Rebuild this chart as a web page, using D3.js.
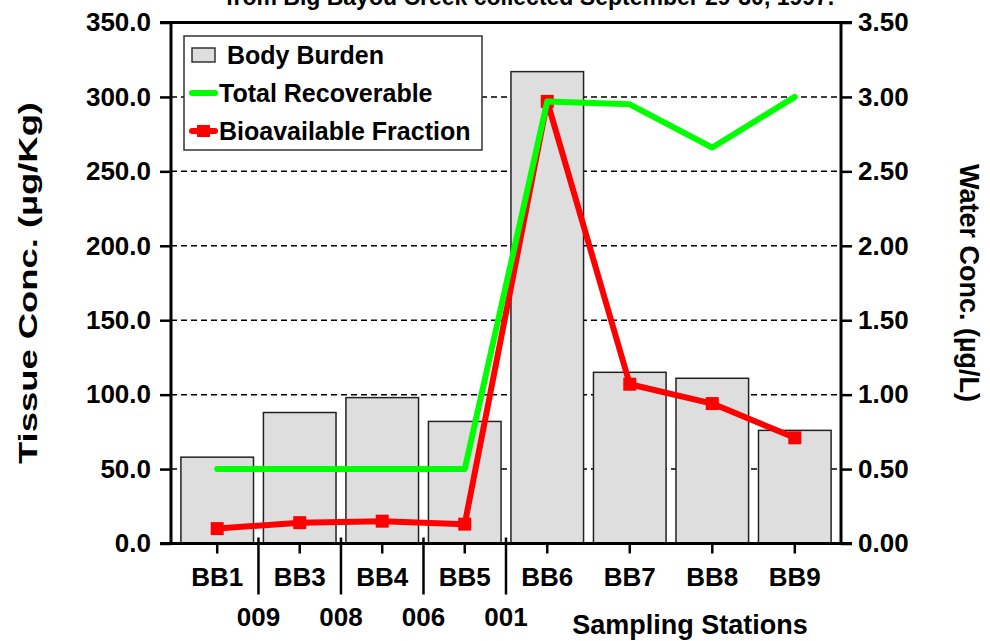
<!DOCTYPE html>
<html>
<head>
<meta charset="utf-8">
<script src="https://cdn.jsdelivr.net/npm/d3@7"></script>
<style>
  body { margin: 0; background: #fff; }
  svg { display: block; font-family: "Liberation Sans", Arial, sans-serif; font-weight: bold; }
</style>
</head>
<body>
<div id="chart"></div>
<script>
// data
const stations = ['BB1', 'BB3', 'BB4', 'BB5', 'BB6', 'BB7', 'BB8', 'BB9'];
const bodyBurden = [58, 88, 98, 82, 317, 115, 111, 76];          // µg/Kg, left axis
const totalRecoverable = [0.5, 0.5, 0.5, 0.5, 2.97, 2.95, 2.66, 3.0]; // µg/L, right axis
const bioavailable = [0.10, 0.14, 0.15, 0.13, 2.97, 1.07, 0.94, 0.71]; // µg/L, right axis
const leftTicks = [0, 50, 100, 150, 200, 250, 300, 350];
const rightTicks = [0, 0.5, 1, 1.5, 2, 2.5, 3, 3.5];
const outfalls = ['009', '008', '006', '001']; // between BB1|BB3 ... BB5|BB6

const width = 990, height = 641;
const margin = { top: 22.5, right: 149, bottom: 97.5, left: 171 };
const w = width - margin.left - margin.right;
const h = height - margin.top - margin.bottom;
const fs = '26px';

const svg = d3.select('#chart').append('svg')
  .attr('width', width)
  .attr('height', height);

// title, mostly cut off at the top edge
svg.append('text')
  .attr('x', 530).attr('y', 5)
  .attr('text-anchor', 'middle')
  .style('font-size', '23px')
  .text('from Big Bayou Creek collected September 29-30, 1997.');

const chart = svg.append('g')
  .attr('transform', `translate(${margin.left},${margin.top})`);

const x = d3.scaleBand()
  .domain(stations)
  .range([0, w])
  .padding(0.12);

const yL = d3.scaleLinear().domain([0, 350]).range([h, 0]);
const yR = d3.scaleLinear().domain([0, 3.5]).range([h, 0]);

// dashed grid
chart.append('g')
  .selectAll('line')
  .data(leftTicks.filter(d => d > 0 && d < 350))
  .enter()
  .append('line')
  .attr('x1', 0).attr('x2', w)
  .attr('y1', d => yL(d)).attr('y2', d => yL(d))
  .attr('stroke', '#000')
  .attr('stroke-width', 1.5)
  .attr('stroke-dasharray', '6 4');

// bars
chart.append('g')
  .selectAll('rect')
  .data(stations)
  .enter()
  .append('rect')
  .attr('x', d => x(d))
  .attr('y', (d, i) => yL(bodyBurden[i]))
  .attr('width', x.bandwidth())
  .attr('height', (d, i) => h - yL(bodyBurden[i]))
  .attr('fill', '#dedede')
  .attr('stroke', '#222')
  .attr('stroke-width', 1.5);

const cx = d => x(d) + x.bandwidth() / 2;

const line = d3.line()
  .x((d, i) => cx(stations[i]))
  .y(d => yR(d));

// bioavailable fraction (red)
chart.append('path')
  .datum(bioavailable)
  .attr('d', line)
  .attr('fill', 'none')
  .attr('stroke', '#ff0000')
  .attr('stroke-width', 6)
  .attr('stroke-linejoin', 'round');

chart.append('g')
  .selectAll('rect')
  .data(bioavailable)
  .enter()
  .append('rect')
  .attr('x', (d, i) => cx(stations[i]) - 6.5)
  .attr('y', d => yR(d) - 6.5)
  .attr('width', 13).attr('height', 13)
  .attr('fill', '#ff0000');

// total recoverable (green)
chart.append('path')
  .datum(totalRecoverable)
  .attr('d', line)
  .attr('fill', 'none')
  .attr('stroke', '#00ff00')
  .attr('stroke-width', 6)
  .attr('stroke-linecap', 'round')
  .attr('stroke-linejoin', 'round');

// axes
const yAxisL = d3.axisLeft(yL).tickValues(leftTicks).tickSize(11).tickPadding(9)
  .tickFormat(d3.format('.1f'));
const yAxisR = d3.axisRight(yR).tickValues(rightTicks).tickSize(11).tickPadding(6)
  .tickFormat(d3.format('.2f'));
const xAxis = d3.axisBottom(x).tickSize(10).tickPadding(14);

const gL = chart.append('g').call(yAxisL);
const gR = chart.append('g').attr('transform', `translate(${w},0)`).call(yAxisR);
const gX = chart.append('g').attr('transform', `translate(0,${h})`).call(xAxis);

[gL, gR, gX].forEach(g => {
  g.select('.domain').remove();
  g.selectAll('.tick line').attr('stroke', '#000').attr('stroke-width', 2.5);
  g.selectAll('.tick text')
    .attr('fill', '#000')
    .style('font-size', fs)
    .style('font-family', '"Liberation Sans", Arial, sans-serif')
    .style('font-weight', 'bold');
});

// frame
chart.append('line').attr('x1', 0).attr('x2', 0).attr('y1', 0).attr('y2', h)
  .attr('stroke', '#000').attr('stroke-width', 3);
chart.append('line').attr('x1', w).attr('x2', w).attr('y1', 0).attr('y2', h)
  .attr('stroke', '#000').attr('stroke-width', 3);
chart.append('line').attr('x1', -11).attr('x2', w + 11).attr('y1', 0).attr('y2', 0)
  .attr('stroke', '#000').attr('stroke-width', 3);
chart.append('line').attr('x1', -11).attr('x2', w + 11).attr('y1', h).attr('y2', h)
  .attr('stroke', '#000').attr('stroke-width', 3);

// outfall separators and labels
const step = x.step();
const sep = chart.append('g');
outfalls.forEach((o, i) => {
  const sx = x(stations[i + 1]) - x.paddingInner() * step / 2;
  sep.append('line')
    .attr('x1', sx).attr('x2', sx)
    .attr('y1', h - 6).attr('y2', h + 51)
    .attr('stroke', '#000').attr('stroke-width', 2.5);
  sep.append('text')
    .attr('x', sx).attr('y', h + 82)
    .attr('text-anchor', 'middle')
    .style('font-size', fs)
    .text(o);
});

svg.append('text')
  .attr('x', 690).attr('y', 634)
  .attr('text-anchor', 'middle')
  .style('font-size', '27px')
  .text('Sampling Stations');

// axis titles
svg.append('text')
  .attr('transform', `translate(37,${margin.top + h / 2}) rotate(-90)`)
  .attr('text-anchor', 'middle')
  .attr('textLength', 362)
  .attr('lengthAdjust', 'spacingAndGlyphs')
  .style('font-size', '25px')
  .text('Tissue Conc. (µg/Kg)');

svg.append('text')
  .attr('transform', `translate(960,${margin.top + h / 2}) rotate(90)`)
  .attr('text-anchor', 'middle')
  .style('font-size', '27px')
  .text('Water Conc. (µg/L)');

// legend
const lg = svg.append('g').attr('transform', 'translate(184,36)');
lg.append('rect')
  .attr('width', 298).attr('height', 114)
  .attr('fill', '#fff')
  .attr('stroke', '#333').attr('stroke-width', 1.5);
lg.append('rect')
  .attr('x', 8).attr('y', 12).attr('width', 23).attr('height', 14)
  .attr('fill', '#dedede').attr('stroke', '#333').attr('stroke-width', 1.5);
lg.append('text').attr('x', 43).attr('y', 28).style('font-size', '25px').text('Body Burden');
lg.append('line')
  .attr('x1', 8).attr('x2', 31).attr('y1', 57).attr('y2', 57)
  .attr('stroke', '#00ff00').attr('stroke-width', 6).attr('stroke-linecap', 'round');
lg.append('text').attr('x', 35).attr('y', 66).style('font-size', '25px').text('Total Recoverable');
lg.append('line')
  .attr('x1', 8).attr('x2', 31).attr('y1', 95).attr('y2', 95)
  .attr('stroke', '#ff0000').attr('stroke-width', 6).attr('stroke-linecap', 'round');
lg.append('rect')
  .attr('x', 13).attr('y', 89).attr('width', 13).attr('height', 12)
  .attr('fill', '#ff0000');
lg.append('text').attr('x', 35).attr('y', 104).style('font-size', '25px').text('Bioavailable Fraction');
</script>
</body>
</html>
